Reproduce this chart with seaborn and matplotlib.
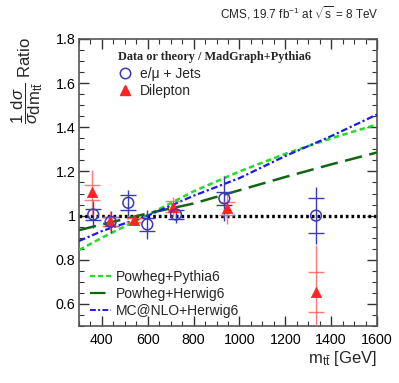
import numpy as np
import pandas as pd
import matplotlib
matplotlib.use("Agg")
import matplotlib.pyplot as plt
from matplotlib.lines import Line2D
from matplotlib.ticker import MultipleLocator, FormatStrFormatter
import seaborn as sns

# ---------------- data ----------------
mass_lj = [362, 438, 515, 598, 723, 934, 1334]
ratio_lj = [1.005, 0.972, 1.058, 0.960, 1.005, 1.078, 1.000]
tot_lj = [0.060, 0.050, 0.058, 0.066, 0.038, 0.103, 0.130]
stat_lj = [0.025, 0.020, 0.034, 0.030, 0.020, 0.030, 0.080]

mass_dl = [358, 435, 540, 711, 947, 1334]
ratio_dl = [1.105, 0.975, 0.980, 1.040, 1.033, 0.655]
tot_dl = [0.100, 0.045, 0.020, 0.045, 0.070, 0.210]
stat_dl = [0.033, 0.020, 0.010, 0.025, 0.030, 0.090]

theory_x = [300, 400, 600, 800, 1000, 1200, 1400, 1600]
powheg_pythia = [0.844, 0.900, 1.003, 1.110, 1.200, 1.280, 1.350, 1.413]
powheg_herwig = [0.934, 0.960, 1.010, 1.055, 1.115, 1.175, 1.232, 1.286]
mcatnlo_herwig = [0.885, 0.930, 1.000, 1.090, 1.170, 1.270, 1.360, 1.458]

# ---------------- style ----------------
sns.set_style("ticks")
plt.rcParams["font.family"] = ["Liberation Sans", "DejaVu Sans"]
plt.rcParams["mathtext.fontset"] = "custom"
plt.rcParams["mathtext.rm"] = "Liberation Sans"
plt.rcParams["mathtext.it"] = "Liberation Sans:italic"
plt.rcParams["mathtext.sf"] = "Liberation Sans"

W, H = 399, 383
fig = plt.figure(figsize=(W / 100, H / 100), dpi=100)
ax = fig.add_axes([79 / W, 1 - 326 / H, (377 - 79) / W, (326 - 39) / H])

c_green = "#22dd22"
c_dgreen = "#116611"
c_blue = "#1a1aee"
c_lj = "#3a3ab8"
c_dl = "#ff2222"
c_dl_err = "#ff6464"

# reference line at 1
ax.axhline(1.0, color="black", lw=2.4, ls=(0, (0.8, 0.9)), zorder=2)

# theory curves
th = pd.DataFrame({"x": theory_x, "pp": powheg_pythia, "ph": powheg_herwig, "mh": mcatnlo_herwig})
sns.lineplot(data=th, x="x", y="pp", ax=ax, color=c_green, lw=1.8,
             linestyle=(0, (2.2, 1.4)), zorder=3)
sns.lineplot(data=th, x="x", y="ph", ax=ax, color=c_dgreen, lw=1.8,
             linestyle=(0, (7, 3)), zorder=3)
sns.lineplot(data=th, x="x", y="mh", ax=ax, color=c_blue, lw=1.6,
             linestyle=(0, (3, 1.2, 1, 1.2)), zorder=3)

# error bars: total (line) and stat (caps)
ax.errorbar(mass_lj, ratio_lj, yerr=tot_lj, fmt="none", ecolor=c_lj, elinewidth=1.0,
            capsize=0, zorder=4)
ax.errorbar(mass_lj, ratio_lj, yerr=stat_lj, fmt="none", ecolor=c_lj, elinewidth=0,
            capsize=5.5, capthick=1.0, zorder=4)
ax.errorbar(mass_dl, ratio_dl, yerr=tot_dl, fmt="none", ecolor=c_dl_err, elinewidth=1.0,
            capsize=0, zorder=4, alpha=0.85)
ax.errorbar(mass_dl, ratio_dl, yerr=stat_dl, fmt="none", ecolor=c_dl_err, elinewidth=0,
            capsize=5.5, capthick=1.0, zorder=4, alpha=0.85)

dl_df = pd.DataFrame({"m": mass_dl, "r": ratio_dl})
lj_df = pd.DataFrame({"m": mass_lj, "r": ratio_lj})
sns.scatterplot(data=dl_df, x="m", y="r", ax=ax, marker="^", s=55, color=c_dl,
                edgecolor=c_dl, linewidth=0.5, zorder=5)
sns.scatterplot(data=lj_df, x="m", y="r", ax=ax, marker="o", s=60, facecolor="none",
                edgecolor=c_lj, linewidth=1.1, zorder=6)

# axes
ax.set_xlim(300, 1600)
ax.set_ylim(0.5, 1.8)
ax.xaxis.set_major_locator(MultipleLocator(200))
ax.xaxis.set_minor_locator(MultipleLocator(50))
ax.yaxis.set_major_locator(MultipleLocator(0.2))
ax.yaxis.set_minor_locator(MultipleLocator(0.05))
ax.yaxis.set_major_formatter(FormatStrFormatter("%g"))
ax.tick_params(which="both", direction="in", top=True, right=True, labelsize=10.3,
               colors="#333333", labelcolor="black")
ax.tick_params(which="major", length=7, width=1.0)
ax.tick_params(which="minor", length=3.5, width=0.8)
ax.tick_params(axis="x", pad=5)
ax.tick_params(axis="y", pad=2.5)
for sp in ax.spines.values():
    sp.set_color("#555555")
    sp.set_linewidth(1.2)
ax.set_xlabel("")
ax.set_ylabel("")

fig.text(377 / W, 1 - 358 / H, r"m$_{\mathrm{t\bar{t}}}$ [GeV]", ha="right", va="center",
         fontsize=12)
fig.text(27 / W, 1 - 37 / H,
         r"$\dfrac{1}{\sigma}\!\dfrac{\mathrm{d}\sigma}{\mathrm{dm}_{\mathrm{t\bar{t}}}}$ Ratio",
         rotation=90, ha="center", va="top", fontsize=12)
fig.text(379 / W, 1 - 13 / H, r"CMS, 19.7 fb$^{-1}$ at $\sqrt{\mathrm{s}}$ = 8 TeV",
         ha="right", va="center", fontsize=8.5)

# legend 1: data
fig.text(118 / W, 1 - 57 / H, "Data or theory / MadGraph+Pythia6", ha="left", va="center",
         family="Liberation Serif", weight="bold", fontsize=8.8)
h1 = [Line2D([], [], ls="none", marker="o", mfc="none", mec=c_lj, ms=7.5, mew=1.1),
      Line2D([], [], ls="none", marker="^", color=c_dl, ms=7.5)]
leg1 = ax.legend(h1, ["e/\u03bc + Jets", "Dilepton"], loc="upper left",
                 bbox_to_anchor=(118 / W, 1 - 67 / H), bbox_transform=fig.transFigure,
                 frameon=False, fontsize=10, handlelength=1.0, handletextpad=0.55,
                 labelspacing=0.2, borderpad=0, borderaxespad=0)
ax.add_artist(leg1)

# legend 2: theory
h2 = [Line2D([], [], color=c_green, lw=1.6, ls=(0, (2.2, 1.4))),
      Line2D([], [], color=c_dgreen, lw=1.6, ls=(0, (7, 3))),
      Line2D([], [], color=c_blue, lw=1.4, ls=(0, (3, 1.2, 1, 1.2)))]
ax.legend(h2, ["Powheg+Pythia6", "Powheg+Herwig6", "MC@NLO+Herwig6"], loc="upper left",
          bbox_to_anchor=(90 / W, 1 - 270 / H), bbox_transform=fig.transFigure,
          frameon=False, fontsize=10, handlelength=1.5, handletextpad=0.35,
          labelspacing=0.2, borderpad=0, borderaxespad=0)

fig.savefig("out.png", dpi=100)
